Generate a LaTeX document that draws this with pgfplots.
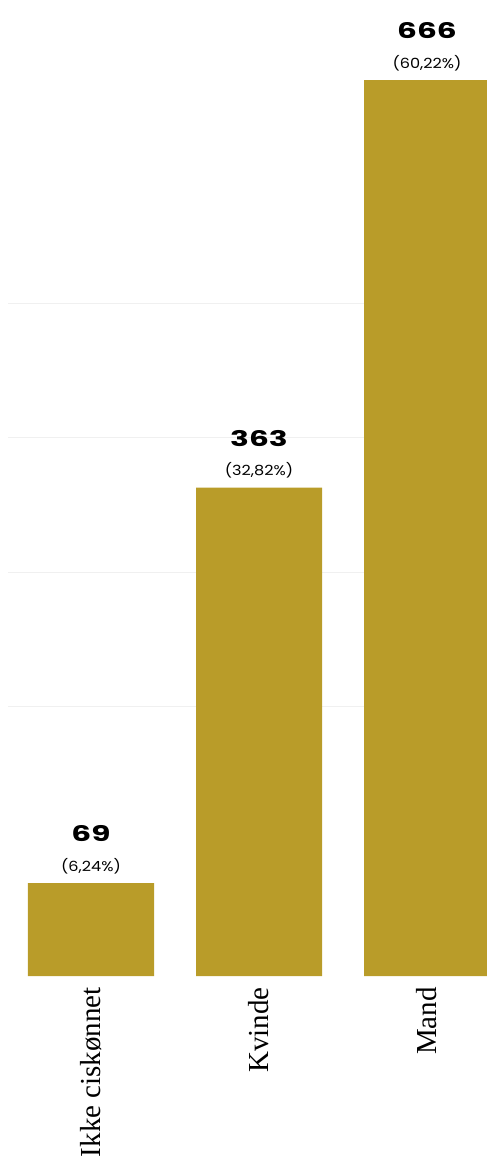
\documentclass[border=0pt]{standalone}
\usepackage{pgfplots}
\pgfplotsset{compat=1.18}
\usepackage{pgfplotstable}
\usepackage{fontspec}
\setmainfont{Liberation Serif}
\newfontfamily\numfont[FakeStretch=1.45]{Poppins}
\newfontfamily\pctfont[FakeStretch=1.15]{Poppins}
\definecolor{barc}{RGB}{185,156,41}
\pgfplotstableread{
x n pct
0 69 6,24
1 363 32,82
2 666 60,22
}\data
\begin{document}
\begin{tikzpicture}[x=1pt,y=1pt]
\useasboundingbox (0,0) rectangle (487,1156);
\begin{axis}[
  at={(8pt,180pt)}, anchor=south west, scale only axis,
  width=479pt, height=976pt,
  xmin=-0.494, xmax=2.357, ymin=0, ymax=725.6,
  enlargelimits=false,
  axis line style={draw=none}, major tick length=0pt,
  xtick={0,1,2}, xticklabels={Ikke ciskønnet,Kvinde,Mand},
  xticklabel style={rotate=90, anchor=east, inner xsep=11pt, inner ysep=0pt,
    font=\fontsize{29}{30}\selectfont},
  ytick={200,300,400,500}, yticklabels={},
  ymajorgrids, grid style={draw=black!6, line width=1pt},
  ybar, bar width=0.75,
  nodes near coords align={anchor=center},
  every node near coord/.append style={yshift=17pt, inner sep=0pt, text=black},
]
\addplot[fill=barc, draw=none,
  point meta=explicit symbolic,
  visualization depends on={\thisrow{n} \as \nval},
  nodes near coords={\makebox[0pt]{\raisebox{29.5pt}[0pt][0pt]{\numfont\bfseries\fontsize{21.5}{21}\selectfont\pgfmathprintnumber[fixed,precision=0,assume math mode=true]{\nval}}}\makebox[0pt]{\pctfont\fontsize{14}{14}\selectfont(\pgfplotspointmeta\%)}},
] table[x=x, y=n, meta=pct] {\data};
\end{axis}
\end{tikzpicture}
\end{document}
